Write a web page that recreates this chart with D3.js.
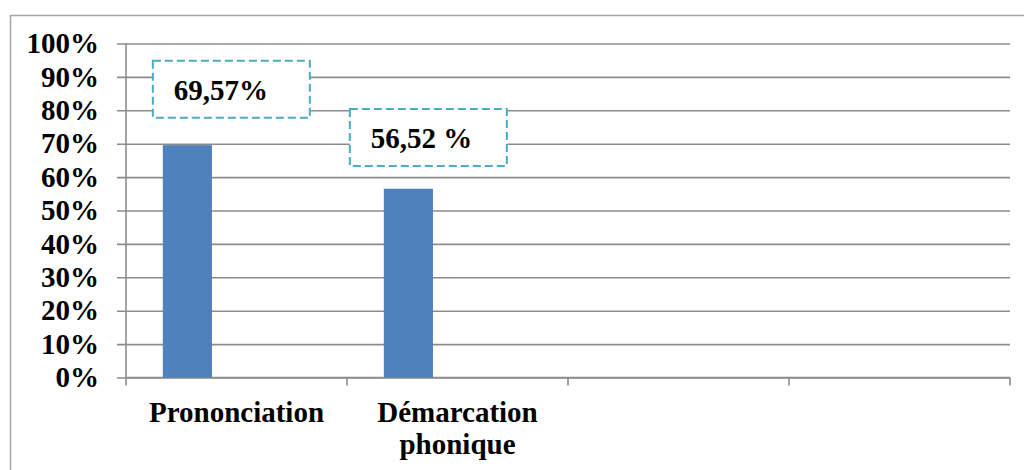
<!DOCTYPE html>
<html>
<head>
<meta charset="utf-8">
<script src="https://cdn.jsdelivr.net/npm/d3@7"></script>
<style>
    body { margin: 0; background: #fff; }
    svg text { font-family: "Liberation Serif", "Times New Roman", serif; font-weight: bold; fill: #000; }
</style>
</head>
<body>
<div id="chart"></div>
<script>
// data
const categories = ['Prononciation', 'Démarcation|phonique', '', ''];
const seriesSlots = ['s1', 's2', 's3'];   // excel kept room for 3 series, only the first is filled
const values = [69.57, 56.52];
const valueLabels = ['69,57%', '56,52 %'];
const yTicks = [0, 10, 20, 30, 40, 50, 60, 70, 80, 90, 100];

// where the callout boxes sit: x offset from bar left (px), top of the box (in % units)
const labelPos = [{dx: -10, top: 94.8}, {dx: -34, top: 80.4}];

const width = 1024;
const height = 470;
const margin = {top: 43.5, right: 14, bottom: 92.5, left: 126};

const gridColor = '#8c8c8c';
const barColor = '#4f81bd';
const calloutColor = '#4bacc6';

let svg = d3.select('#chart').append('svg')
    .attr('width', width)
    .attr('height', height);

// outer chart frame (runs past the picture on right and bottom)
svg.append('rect')
    .attr('x', 10.5)
    .attr('y', 15.5)
    .attr('width', 1040)
    .attr('height', 500)
    .attr('fill', 'none')
    .attr('stroke', '#a6a6a6')
    .attr('stroke-width', 1.5);

let x = d3.scaleBand()
    .domain(d3.range(categories.length))
    .range([margin.left, width - margin.right]);

let slot = d3.scaleBand()
    .domain(seriesSlots)
    .range([0, x.bandwidth()])
    .paddingOuter(0.75);

let y = d3.scaleLinear()
    .domain([0, 100])
    .range([height - margin.bottom, margin.top]);

// gridlines + y ticks
let yAxis = svg.append('g')
    .attr('transform', 'translate(' + margin.left + ',0)')
    .call(d3.axisLeft(y)
        .tickValues(yTicks)
        .tickSize(-(width - margin.left - margin.right))
        .tickPadding(27)
        .tickFormat(d => d + '%'));
yAxis.select('.domain').remove();
yAxis.selectAll('.tick line')
    .attr('x1', -9)
    .attr('stroke', gridColor)
    .attr('stroke-width', 1.6);
yAxis.selectAll('.tick text')
    .attr('font-size', 29)
    .attr('dy', '0.32em');

// left axis line
svg.append('line')
    .attr('x1', margin.left).attr('x2', margin.left)
    .attr('y1', y(100)).attr('y2', y(0))
    .attr('stroke', gridColor)
    .attr('stroke-width', 1.6);

// bottom axis with category ticks at band edges
let bottom = svg.append('g');
bottom.append('line')
    .attr('x1', margin.left).attr('x2', width - margin.right)
    .attr('y1', y(0)).attr('y2', y(0))
    .attr('stroke', gridColor)
    .attr('stroke-width', 1.6);
let edges = d3.range(categories.length + 1).map(i => margin.left + i * x.step());
bottom.selectAll('.edge')
    .data(edges)
    .enter()
    .append('line')
    .attr('class', 'edge')
    .attr('x1', d => d).attr('x2', d => d)
    .attr('y1', y(0)).attr('y2', y(0) + 8)
    .attr('stroke', gridColor)
    .attr('stroke-width', 1.6);

bottom.selectAll('.cat')
    .data(categories)
    .enter()
    .append('text')
    .attr('class', 'cat')
    .attr('text-anchor', 'middle')
    .attr('font-size', 29)
    .each(function (d, i) {
        let lines = d.split('|');
        let cx = x(i) + x.bandwidth() / 2;
        lines.forEach((l, j) => {
            d3.select(this).append('tspan')
                .attr('x', cx)
                .attr('y', 422 + j * 32)
                .text(l);
        });
    });

// bars
svg.selectAll('.bar')
    .data(values)
    .enter()
    .append('rect')
    .attr('class', 'bar')
    .attr('x', (d, i) => x(i) + slot(seriesSlots[0]))
    .attr('width', slot.bandwidth())
    .attr('y', d => y(d))
    .attr('height', d => y(0) - y(d))
    .attr('fill', barColor);

// callout labels
let boxW = 157;
let boxH = 57;
let callout = svg.selectAll('.callout')
    .data(values)
    .enter()
    .append('g')
    .attr('class', 'callout')
    .attr('transform', (d, i) => 'translate(' + (x(i) + slot(seriesSlots[0]) + labelPos[i].dx) + ',' + y(labelPos[i].top) + ')');

callout.append('rect')
    .attr('width', boxW)
    .attr('height', boxH)
    .attr('fill', '#fff')
    .attr('stroke', calloutColor)
    .attr('stroke-width', 2)
    .attr('stroke-dasharray', '8,4');

callout.append('text')
    .attr('x', 21)
    .attr('y', 39)
    .attr('font-size', 29)
    .text((d, i) => valueLabels[i]);
</script>
</body>
</html>
